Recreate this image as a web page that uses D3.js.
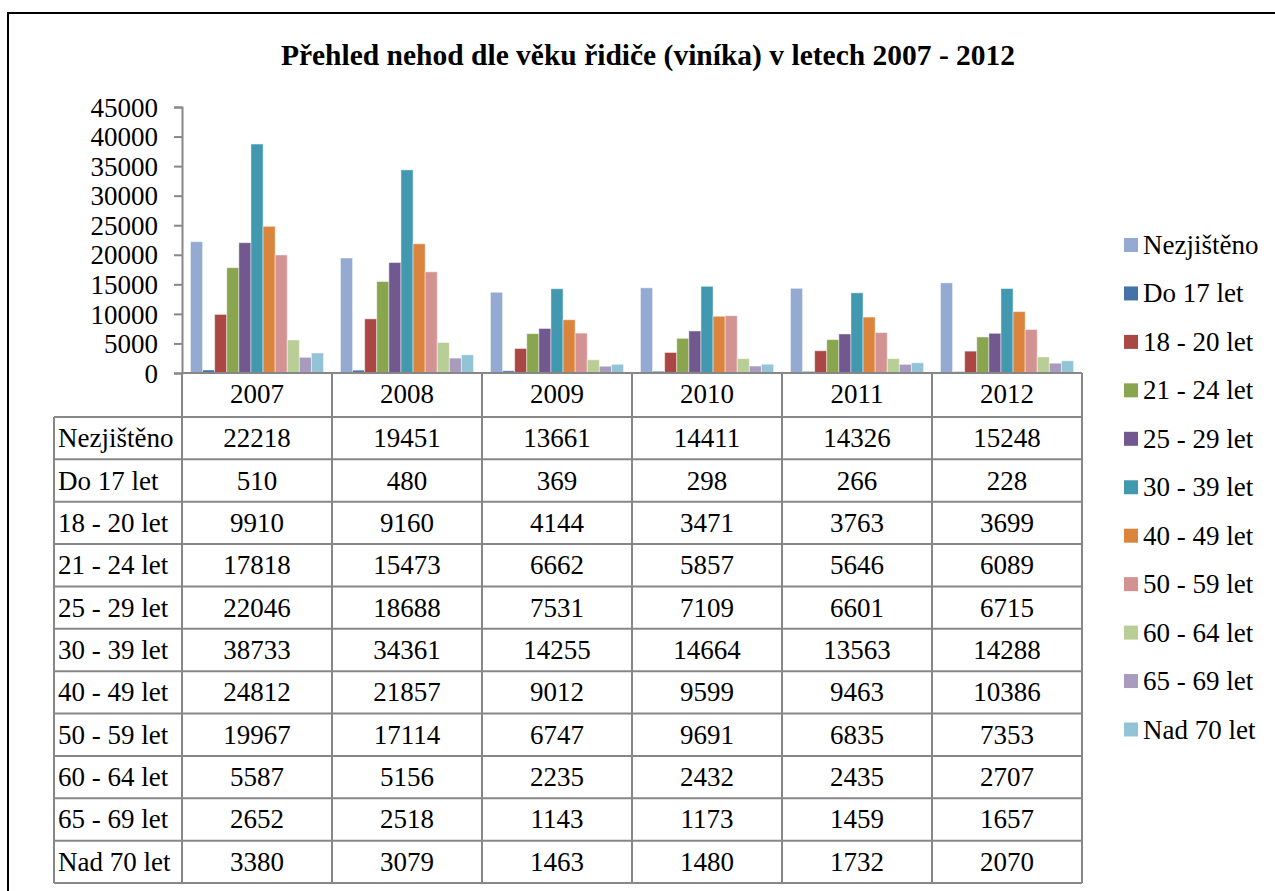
<!DOCTYPE html>
<html>
<head>
<meta charset="utf-8">
<script src="https://cdn.jsdelivr.net/npm/d3@7"></script>
<style>
  body { margin: 0; background: #fff; }
</style>
</head>
<body>
<svg id="chart" width="1275" height="891"></svg>
<script>
// roky (kategorie)
var years = ['2007', '2008', '2009', '2010', '2011', '2012'];
var groups = ['Nezjištěno', 'Do 17 let', '18 - 20 let', '21 - 24 let', '25 - 29 let',
  '30 - 39 let', '40 - 49 let', '50 - 59 let', '60 - 64 let', '65 - 69 let', 'Nad 70 let'];

// hodnoty podle skupin
var nezjisteno = [22218, 19451, 13661, 14411, 14326, 15248];
var do17 = [510, 480, 369, 298, 266, 228];
var v18_20 = [9910, 9160, 4144, 3471, 3763, 3699];
var v21_24 = [17818, 15473, 6662, 5857, 5646, 6089];
var v25_29 = [22046, 18688, 7531, 7109, 6601, 6715];
var v30_39 = [38733, 34361, 14255, 14664, 13563, 14288];
var v40_49 = [24812, 21857, 9012, 9599, 9463, 10386];
var v50_59 = [19967, 17114, 6747, 9691, 6835, 7353];
var v60_64 = [5587, 5156, 2235, 2432, 2435, 2707];
var v65_69 = [2652, 2518, 1143, 1173, 1459, 1657];
var nad70 = [3380, 3079, 1463, 1480, 1732, 2070];

var yTicks = [0, 5000, 10000, 15000, 20000, 25000, 30000, 35000, 40000, 45000];

var series = [nezjisteno, do17, v18_20, v21_24, v25_29, v30_39, v40_49, v50_59, v60_64, v65_69, nad70];
var colors = ['#95AAD3', '#4572A7', '#AA4643', '#89A54E', '#71588F', '#4198AF',
  '#DB843D', '#D39392', '#B9CE96', '#A99BBD', '#93C4D5'];

var font = 'Liberation Serif';
var fs = 27;
var svg = d3.select('#chart').attr('font-family', font);
var gridColor = '#878787';

// ramecek
svg.append('rect')
  .attr('x', 8).attr('y', 13).attr('width', 1300).attr('height', 900)
  .attr('fill', 'none').attr('stroke', '#000').attr('stroke-width', 2);

svg.append('text')
  .attr('x', 648).attr('y', 65)
  .attr('text-anchor', 'middle')
  .attr('font-family', font)
  .attr('font-size', 29.5).attr('font-weight', 'bold')
  .text('Přehled nehod dle věku řidiče (viníka) v letech 2007 - 2012');

var x0 = d3.scaleBand().domain(years).range([182, 1082]);
var x1 = d3.scaleBand().domain(groups).range([0, x0.bandwidth()]).paddingOuter(0.7);
var y = d3.scaleLinear().domain([0, 45000]).range([373, 107]);

// sloupce
var bars = svg.append('g');
years.forEach(function (yr, i) {
  var g = bars.append('g').attr('transform', 'translate(' + x0(yr) + ',0)');
  g.selectAll('rect')
    .data(groups.map(function (name, k) { return { name: name, v: series[k][i], c: colors[k] }; }))
    .enter().append('rect')
    .attr('x', function (d) { return x1(d.name); })
    .attr('y', function (d) { return y(d.v); })
    .attr('width', x1.bandwidth())
    .attr('height', function (d) { return y(0) - y(d.v); })
    .attr('fill', function (d) { return d.c; })
    .attr('stroke', 'rgba(255,255,255,0.45)')
    .attr('stroke-width', 1);
});

// osa y
var yAxis = svg.append('g')
  .attr('transform', 'translate(182,0)')
  .call(d3.axisLeft(y).tickValues(yTicks).tickSize(8).tickPadding(16).tickFormat(d3.format('d')))
  .attr('font-family', font)
  .attr('font-size', fs);
yAxis.select('.domain').attr('stroke', gridColor).attr('stroke-width', 2);
yAxis.selectAll('.tick line').attr('stroke', gridColor).attr('stroke-width', 2);
yAxis.selectAll('.tick text').attr('fill', '#000').attr('dy', '0.34em');

// tabulka s daty
var tableLeft = 54, tableTop = 417, rowH = (883 - 417) / groups.length;
var tbl = svg.append('g').attr('font-family', font).attr('font-size', fs);

// hlavicka s roky
tbl.selectAll('.yr')
  .data(years).enter().append('text')
  .attr('x', function (d) { return x0(d) + x0.bandwidth() / 2; })
  .attr('y', 403)
  .attr('text-anchor', 'middle')
  .text(function (d) { return d; });

groups.forEach(function (name, k) {
  var ty = tableTop + rowH * k + rowH / 2 + 9;
  tbl.append('text')
    .attr('x', tableLeft + 4).attr('y', ty)
    .text(name);
  tbl.selectAll('.c' + k)
    .data(series[k]).enter().append('text')
    .attr('x', function (d, i) { return x0(years[i]) + x0.bandwidth() / 2; })
    .attr('y', ty)
    .attr('text-anchor', 'middle')
    .text(function (d) { return d; });
});

// mrizka tabulky
var lines = tbl.append('g').attr('stroke', gridColor).attr('stroke-width', 2);
lines.append('line').attr('x1', 182).attr('x2', 1082).attr('y1', 373).attr('y2', 373);
d3.range(groups.length + 1).forEach(function (k) {
  var ly = tableTop + rowH * k;
  lines.append('line').attr('x1', tableLeft).attr('x2', 1082).attr('y1', ly).attr('y2', ly);
});
lines.append('line').attr('x1', tableLeft).attr('x2', tableLeft).attr('y1', tableTop).attr('y2', 883);
years.concat(['end']).forEach(function (yr, i) {
  var lx = 182 + x0.bandwidth() * i;
  lines.append('line').attr('x1', lx).attr('x2', lx).attr('y1', 373).attr('y2', 883);
});

// legenda
var legend = svg.append('g').attr('font-family', font).attr('font-size', fs);
groups.forEach(function (name, k) {
  var cy = 245 + k * 48.45;
  legend.append('rect')
    .attr('x', 1124).attr('y', cy - 7).attr('width', 14).attr('height', 14)
    .attr('fill', colors[k]);
  legend.append('text')
    .attr('x', 1143).attr('y', cy + 9)
    .text(name);
});
</script>
</body>
</html>
